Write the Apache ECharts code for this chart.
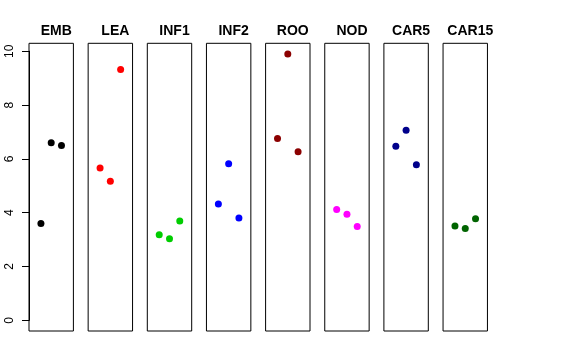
<!DOCTYPE html>
<html>
<head>
<meta charset="utf-8">
<script src="https://cdn.jsdelivr.net/npm/echarts@6/dist/echarts.min.js"></script>
<style>
html,body{margin:0;padding:0;background:#fff;}
#chart{width:576px;height:360px;}
</style>
</head>
<body>
<div id="chart"></div>
<script>
// ---- data ----
const categories = ['EMB', 'LEA', 'INF1', 'INF2', 'ROO', 'NOD', 'CAR5', 'CAR15'];
const positions = [1, 2, 3];
const EMB = [3.60, 6.60, 6.50];
const LEA = [5.66, 5.17, 9.32];
const INF1 = [3.18, 3.03, 3.69];
const INF2 = [4.32, 5.82, 3.80];
const ROO = [6.76, 9.90, 6.27];
const NOD = [4.12, 3.94, 3.49];
const CAR5 = [6.47, 7.06, 5.78];
const CAR15 = [3.51, 3.41, 3.78];
const yTicks = [0, 2, 4, 6, 8, 10];
const colors = ['#000000', '#FF0000', '#00CD00', '#0000FF', '#8B0000', '#FF00FF', '#00008B', '#006400'];

const seriesValues = [EMB, LEA, INF1, INF2, ROO, NOD, CAR5, CAR15];

// ---- layout ----
const FONT = '"Liberation Sans", Arial, Helvetica, sans-serif';
const panelTop = 43.3, panelBottom = 331;
const firstLeft = 29, pitch = 59.15, panelW = 44.4;
const yMaxData = Math.max(...seriesValues.flat());
const ext = 0.04 * yMaxData;
const yMin = 0 - ext, yMax = yMaxData + ext;
const xMin = 0 - 0.16, xMax = 4 + 0.16;

const grids = [], xAxes = [], yAxes = [], series = [], titles = [];
categories.forEach((cat, i) => {
  const left = firstLeft + i * pitch;
  grids.push({left: left, top: panelTop, width: panelW, height: panelBottom - panelTop,
    show: true, borderColor: '#000', borderWidth: 1, backgroundColor: 'transparent'});
  xAxes.push({type: 'value', gridIndex: i, min: xMin, max: xMax, show: false});
  yAxes.push({type: 'value', gridIndex: i, min: yMin, max: yMax, show: false});
  series.push({
    type: 'scatter', xAxisIndex: i, yAxisIndex: i,
    data: positions.map((p, k) => [p, seriesValues[i][k]]),
    symbol: 'circle', symbolSize: 7,
    itemStyle: {color: colors[i], opacity: 1},
    silent: true, animation: false
  });
  titles.push({
    text: cat, left: left + panelW / 2, top: 19, textAlign: 'center',
    textStyle: {fontFamily: FONT, fontSize: 14, fontWeight: 'bold', color: '#000'}
  });
});

// axis grid for y ticks at 0..10
const scale = (panelBottom - panelTop) / (yMax - yMin);
const y0 = panelBottom - (0 - yMin) * scale;
const y10 = panelBottom - (10 - yMin) * scale;
const ai = categories.length;
grids.push({left: firstLeft, top: y10, width: 1, height: y0 - y10, show: false});
xAxes.push({type: 'value', gridIndex: ai, min: 0, max: 1, show: false});
yAxes.push({
  type: 'value', gridIndex: ai, min: yTicks[0], max: yTicks[yTicks.length - 1], interval: 2,
  position: 'left',
  axisLine: {show: true, lineStyle: {color: '#000', width: 1}},
  axisTick: {show: true, length: 7, lineStyle: {color: '#000', width: 1}},
  splitLine: {show: false},
  axisLabel: {show: true, rotate: 90, margin: 13, fontFamily: FONT, fontSize: 12, color: '#000'}
});

const chart = echarts.init(document.getElementById('chart'), null, {renderer: 'canvas'});
chart.setOption({
  animation: false,
  title: titles,
  grid: grids,
  xAxis: xAxes,
  yAxis: yAxes,
  series: series
});
</script>
</body>
</html>
